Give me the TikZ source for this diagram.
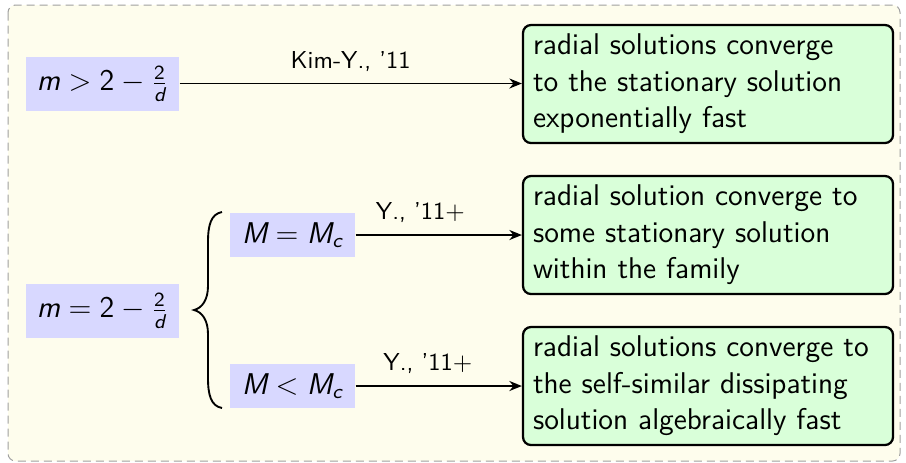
\documentclass[tikz,border=0pt]{standalone}
\usepackage{amsmath}
\usetikzlibrary{arrows.meta}
\renewcommand\familydefault{\sfdefault}
\newcommand\mvar[1]{\textsf{\itshape #1}}
\newcommand\mnum[1]{\textsf{#1}}
\definecolor{bgyellow}{RGB}{254,253,237}
\definecolor{condblue}{RGB}{216,216,255}
\definecolor{resgreen}{RGB}{217,255,217}
\definecolor{frame}{RGB}{160,160,160}
\tikzset{
  cond/.style={fill=condblue, inner sep=0pt, font=\fontsize{12}{14.5}\selectfont},
  condbig/.style={cond, minimum width=61.2pt, minimum height=21.6pt},
  condsmall/.style={cond, minimum width=50pt, minimum height=17.6pt},
  res/.style={draw, line width=0.9pt, fill=resgreen, rounded corners=3.2pt,
    text width=140pt, align=left, minimum height=47.2pt, inner xsep=4pt, inner ysep=0pt,
    font=\fontsize{12}{14.6}\selectfont},
  conn/.style={line width=0.75pt, -{Stealth[length=5pt,width=4pt]}},
  lbl/.style={font=\fontsize{9.8}{12}\selectfont, yshift=8.8pt},
  bracepath/.style={line width=0.75pt}
}
\begin{document}
\begin{tikzpicture}[x=0.4pt,y=-0.4pt]
\useasboundingbox (0,0) rectangle (906,462);
\draw[frame, line width=0.4pt, dash pattern=on 3.2pt off 2pt, fill=bgyellow, rounded corners=3pt]
  (8,5) rectangle (900,461);

\node[condbig] (c1) at (102.5,83.5) {$\mvar{m} > \mnum{2} - \frac{\mnum{2}}{\mvar{d}}$};
\node[condbig] (c2) at (102.5,310.5) {$\mvar{m} = \mnum{2} - \frac{\mnum{2}}{\mvar{d}}$};
\node[condsmall] (c3) at (292.5,235) {$\mvar{M} = \mvar{M}_{\mvar{c}}$};
\node[condsmall] (c4) at (292.5,386) {$\mvar{M} < \mvar{M}_{\mvar{c}}$};

\node[res] (r1) at (708,84) {radial solutions converge\\to the stationary solution\\exponentially fast};
\node[res] (r2) at (708,235) {radial solution converge to\\some stationary solution\\within the family};
\node[res] (r3) at (708,386) {radial solutions converge to\\the self-similar dissipating\\solution algebraically fast};

\draw[conn] (c1.east) -- node[lbl, pos=0.5] {Kim-Y., '11} (r1.west |- c1.east);
\draw[conn] (c3.east) -- node[lbl, pos=0.39] {Y., '11$+$} (r2.west |- c3.east);
\draw[conn] (c4.east) -- node[lbl, pos=0.435] {Y., '11$+$} (r3.west |- c4.east);

\coordinate (bt) at (222,212);
\coordinate (bm) at (194,310);
\coordinate (bb) at (222,408);
\draw[bracepath] (bt) .. controls (211,214) and (208,225) .. (208,242)
  -- (208,286) .. controls (208,300) and (202,308) .. (bm)
  .. controls (202,312) and (208,320) .. (208,334)
  -- (208,378) .. controls (208,395) and (211,406) .. (bb);
\end{tikzpicture}
\end{document}
